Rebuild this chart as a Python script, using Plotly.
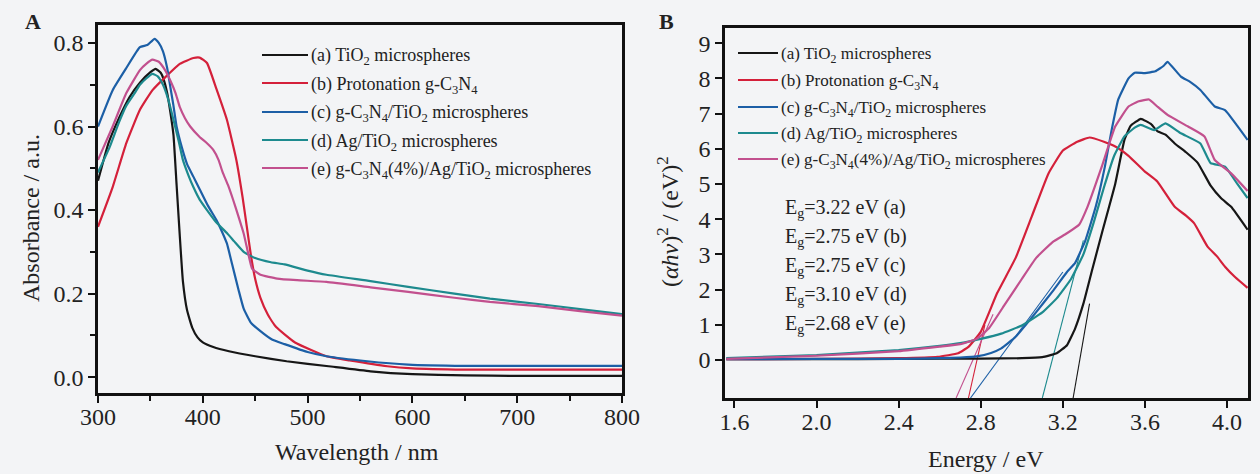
import plotly.graph_objects as go

W, H = 1260, 474

# ---------------- Data: panel A (UV-vis absorbance) ----------------
series_names = [
    "(a) TiO<sub>2</sub> microspheres",
    "(b) Protonation g-C<sub>3</sub>N<sub>4</sub>",
    "(c) g-C<sub>3</sub>N<sub>4</sub>/TiO<sub>2</sub> microspheres",
    "(d) Ag/TiO<sub>2</sub> microspheres",
    "(e) g-C<sub>3</sub>N<sub>4</sub>(4%)/Ag/TiO<sub>2</sub> microspheres",
]
series_colors = ["#161616", "#d4203a", "#1c5fa6", "#1d8a8e", "#c2508e"]

wl_a = [300, 310, 320, 330, 340, 350, 355, 360, 363, 366, 369, 372, 375, 378, 381, 385, 390, 395, 400, 410, 425, 450, 480, 520, 560, 600, 650, 700, 800]
abs_a = [.47, .56, .62, .67, .705, .73, .738, .728, .71, .68, .635, .58, .46, .34, .23, .16, .118, .095, .083, .072, .062, .05, .038, .026, .014, .007, .004, .003, .003]

wl_b = [300, 314, 327, 340, 352, 365, 378, 391, 397, 404, 413, 423, 432, 438, 442, 446, 450, 455, 462, 470, 488, 518, 540, 576, 600, 650, 800]
abs_b = [.36, .455, .56, .64, .687, .72, .75, .764, .765, .752, .69, .616, .52, .43, .36, .29, .235, .19, .15, .12, .083, .05, .04, .026, .021, .018, .018]

wl_c = [300, 314, 327, 340, 347, 354, 358, 362, 366, 369, 372, 375, 380, 385, 391, 397, 405, 413, 418, 423, 428, 434, 439, 446, 455, 466, 478, 500, 518, 557, 596, 650, 800]
abs_c = [.6, .687, .74, .79, .795, .81, .8, .78, .74, .695, .65, .6, .55, .51, .48, .45, .41, .376, .35, .32, .27, .21, .164, .13, .11, .09, .079, .06, .05, .038, .03, .027, .027]

wl_d = [300, 311, 320, 327, 335, 340, 346, 352, 357, 362, 367, 372, 377, 381, 386, 391, 397, 404, 413, 423, 430, 439, 450, 465, 478, 500, 518, 560, 596, 640, 674, 720, 760, 800]
abs_d = [.49, .55, .61, .65, .68, .70, .715, .726, .72, .70, .665, .616, .565, .52, .485, .455, .425, .40, .37, .345, .325, .30, .285, .275, .27, .255, .245, .23, .216, .2, .188, .175, .163, .151]

wl_e = [300, 314, 327, 340, 346, 352, 358, 364, 369, 374, 378, 383, 388, 397, 404, 410, 415, 419, 424, 429, 434, 439, 443, 447, 455, 471, 490, 518, 560, 596, 640, 674, 720, 760, 800]
abs_e = [.52, .6, .68, .735, .75, .76, .755, .735, .71, .68, .647, .62, .6, .575, .56, .544, .52, .49, .46, .424, .385, .344, .30, .26, .245, .236, .232, .228, .215, .204, .19, .18, .17, .158, .147]

# ---------------- Data: panel B (Tauc plot) ----------------
en_a = [1.56, 2.0, 2.4, 2.8, 3.0, 3.1, 3.17, 3.22, 3.26, 3.3, 3.34, 3.39, 3.455, 3.5, 3.53, 3.58, 3.63, 3.66, 3.7, 3.745, 3.8, 3.857, 3.92, 3.97, 4.02, 4.1]
tau_a = [0.02, 0.02, 0.03, 0.04, 0.05, 0.08, 0.19, 0.42, 0.9, 1.6, 2.5, 3.6, 5.0, 6.25, 6.65, 6.85, 6.7, 6.5, 6.4, 6.15, 5.9, 5.6, 4.95, 4.6, 4.35, 3.7]

en_b = [1.56, 2.0, 2.4, 2.59, 2.69, 2.74, 2.8, 2.88, 2.97, 3.05, 3.13, 3.2, 3.27, 3.33, 3.4, 3.46, 3.52, 3.6, 3.66, 3.745, 3.8, 3.84, 3.905, 3.95, 3.99, 4.04, 4.1]
tau_b = [0.02, 0.03, 0.05, 0.09, 0.19, 0.37, 0.8, 1.9, 2.9, 4.1, 5.3, 5.95, 6.2, 6.32, 6.2, 6.05, 5.8, 5.35, 5.07, 4.35, 4.1, 3.88, 3.22, 2.95, 2.65, 2.35, 2.05]

en_c = [1.56, 2.0, 2.4, 2.6, 2.7, 2.78, 2.85, 2.9, 2.97, 3.07, 3.15, 3.22, 3.26, 3.31, 3.36, 3.405, 3.435, 3.47, 3.52, 3.55, 3.6, 3.65, 3.69, 3.71, 3.775, 3.82, 3.87, 3.94, 3.99, 4.05, 4.1]
tau_c = [0.02, 0.03, 0.03, 0.05, 0.07, 0.1, 0.2, 0.33, 0.66, 1.36, 1.95, 2.5, 2.76, 3.4, 4.35, 5.5, 6.45, 7.4, 8.0, 8.16, 8.15, 8.2, 8.35, 8.47, 8.05, 7.9, 7.67, 7.2, 7.1, 6.65, 6.25]

en_d = [1.56, 2.0, 2.4, 2.6, 2.7, 2.8, 2.9, 3.0, 3.1, 3.17, 3.24, 3.3, 3.35, 3.4, 3.45, 3.5, 3.55, 3.58, 3.645, 3.70, 3.775, 3.87, 3.92, 3.99, 4.05, 4.1]
tau_d = [0.05, 0.14, 0.28, 0.4, 0.48, 0.6, 0.75, 0.98, 1.35, 1.75, 2.3, 3.0, 3.9, 4.9, 5.8, 6.35, 6.6, 6.68, 6.53, 6.72, 6.44, 6.15, 5.59, 5.49, 5.0, 4.6]

en_e = [1.56, 2.0, 2.4, 2.6, 2.7, 2.78, 2.84, 2.92, 3.0, 3.07, 3.15, 3.22, 3.28, 3.32, 3.39, 3.455, 3.52, 3.57, 3.62, 3.66, 3.71, 3.81, 3.89, 3.94, 4.02, 4.1]
tau_e = [0.03, 0.12, 0.25, 0.38, 0.45, 0.6, 0.9, 1.6, 2.3, 2.9, 3.35, 3.6, 3.85, 4.35, 5.5, 6.63, 7.2, 7.35, 7.4, 7.2, 6.96, 6.63, 6.35, 5.68, 5.3, 4.8]

# tangent (band-gap extrapolation) lines: end points
tan_en = [[3.25, 3.33], [2.74, 2.82], [2.75, 3.20], [3.10, 3.30], [2.68, 2.86]]
tan_val = [[-1.08, 1.6], [-1.08, 1.0], [-1.08, 2.5], [-1.08, 3.4], [-1.08, 1.3]]

eg_labels = [
    "E<sub>g</sub>=3.22 eV (a)",
    "E<sub>g</sub>=2.75 eV (b)",
    "E<sub>g</sub>=2.75 eV (c)",
    "E<sub>g</sub>=3.10 eV (d)",
    "E<sub>g</sub>=2.68 eV (e)",
]

A_x = [wl_a, wl_b, wl_c, wl_d, wl_e]
A_y = [abs_a, abs_b, abs_c, abs_d, abs_e]
B_x = [en_a, en_b, en_c, en_d, en_e]
B_y = [tau_a, tau_b, tau_c, tau_d, tau_e]

FONT = "Liberation Serif"
BG = "#f3f4f6"


def px(x):
    return x / W


def py(y):
    return 1 - y / H


fig = go.Figure()

for i in range(5):
    fig.add_trace(go.Scatter(x=A_x[i], y=A_y[i], mode="lines", line=dict(color=series_colors[i], width=2.2, shape="spline", smoothing=0.4),
                             xaxis="x", yaxis="y", showlegend=False, name=series_names[i]))
for i in range(5):
    fig.add_trace(go.Scatter(x=tan_en[i], y=tan_val[i], mode="lines", line=dict(color=series_colors[i], width=1.1),
                             xaxis="x2", yaxis="y2", showlegend=False, hoverinfo="skip"))
for i in range(5):
    fig.add_trace(go.Scatter(x=B_x[i], y=B_y[i], mode="lines", line=dict(color=series_colors[i], width=2.2, shape="spline", smoothing=0.35),
                             xaxis="x2", yaxis="y2", showlegend=False, name=series_names[i]))

axis_common = dict(showline=True, linecolor="#111", linewidth=2.5, mirror=True, ticks="outside", tickwidth=2,
                   tickcolor="#111", ticklen=7, showgrid=False, zeroline=False, automargin=False,
                   tickfont=dict(family=FONT, size=24, color="#222"))

fig.update_layout(
    width=W, height=H, margin=dict(l=0, r=0, t=0, b=0),
    paper_bgcolor=BG, plot_bgcolor=BG,
    xaxis=dict(domain=[px(98), px(622)], range=[300, 800], tick0=300, dtick=100, anchor="y", ticklabelstandoff=-7,
               minor=dict(dtick=50, ticks="outside", ticklen=5, tickwidth=2, tickcolor="#111"), **axis_common),
    yaxis=dict(domain=[py(393), py(25)], range=[-0.038, 0.843], tick0=0, dtick=0.2, tickformat=".1f", anchor="x",
               minor=dict(dtick=0.1, ticks="outside", ticklen=5, tickwidth=2, tickcolor="#111"), **axis_common),
    xaxis2=dict(domain=[px(725), px(1248)], range=[1.554, 4.102], tickvals=[1.6, 2.0, 2.4, 2.8, 3.2, 3.6, 4.0],
                tickformat=".1f", anchor="y2", ticklabelstandoff=-7, **axis_common),
    yaxis2=dict(domain=[py(398), py(28)], range=[-1.08, 9.43], tickvals=list(range(10)), anchor="x2", **axis_common),
)

ann = []


def label(xp, yp, text, size, xanchor="center", angle=0):
    ann.append(dict(x=px(xp), y=py(yp), xref="paper", yref="paper", text=text, showarrow=False,
                    xanchor=xanchor, yanchor="middle", textangle=angle,
                    font=dict(family=FONT, size=size, color="#222")))


# legends (panel A and B)
legA_rows = [55, 83, 112, 140, 168]
legB_rows = [53, 80, 107, 133, 159]
for i in range(5):
    fig.add_shape(type="line", xref="paper", yref="paper", x0=px(262), x1=px(308), y0=py(legA_rows[i]), y1=py(legA_rows[i]),
                  line=dict(color=series_colors[i], width=2.2))
    label(309, legA_rows[i] + 2, series_names[i], 18, "left")
    fig.add_shape(type="line", xref="paper", yref="paper", x0=px(738), x1=px(778), y0=py(legB_rows[i]), y1=py(legB_rows[i]),
                  line=dict(color=series_colors[i], width=2.2))
    label(779, legB_rows[i] + 2, series_names[i], 17, "left")

eg_rows = [208, 237, 266, 295, 324]
for i in range(5):
    label(783, eg_rows[i], eg_labels[i], 20, "left")

# axis titles
label(357, 452, "Wavelength / nm", 24)
label(986, 459, "Energy / eV", 24)
label(31, 218, "Absorbance / a.u.", 24, angle=-90)
label(668, 222, "(<i>αhν</i>)<sup>2</sup> / (eV)<sup>2</sup>", 24, angle=-90)
# panel letters
label(33, 22, "<b>A</b>", 22)
label(666, 22, "<b>B</b>", 22)

fig.update_layout(annotations=ann)
fig.write_html("out.html", config={"displayModeBar": False},
               post_script="document.body.style.margin='0';document.body.style.background='" + BG + "';")
